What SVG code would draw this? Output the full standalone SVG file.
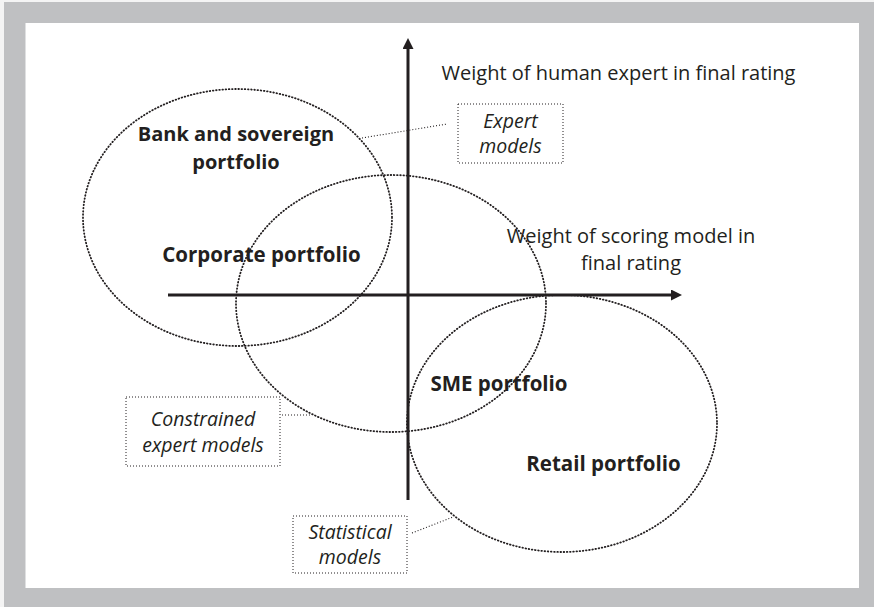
<svg xmlns="http://www.w3.org/2000/svg" width="874" height="607" viewBox="0 0 874 607">
<defs>
<style>
.ell{fill:none;stroke:#231f20;stroke-width:1.8;stroke-dasharray:0.6 2.6;stroke-linecap:round}
.box{fill:#fff;stroke:#231f20;stroke-width:1;stroke-dasharray:1 2}
.lead{fill:none;stroke:#231f20;stroke-width:1.1;stroke-dasharray:1 2}
.axis{stroke:#231f20;stroke-width:3;fill:none}
.lab{font-family:"Open Sans","Noto Sans",sans-serif;font-size:20px;fill:#231f20}
.it{font-family:"Open Sans","Noto Sans",sans-serif;font-size:19.5px;font-style:italic;fill:#231f20;text-anchor:middle}
.bold{font-family:"Open Sans","Noto Sans",sans-serif;font-size:20.5px;font-weight:bold;fill:#231f20;text-anchor:middle}
</style>
<marker id="ah" viewBox="0 0 10 10" refX="0" refY="5" markerWidth="11" markerHeight="11" markerUnits="userSpaceOnUse" orient="auto">
<path d="M0,0 L10,5 L0,10 Z" fill="#231f20"/>
</marker>
</defs>
<rect x="0" y="0" width="874" height="607" fill="#f4f4f4"/>
<rect x="4" y="2" width="870" height="605" fill="#bfc0c2"/>
<rect x="25.5" y="23" width="833.5" height="565" fill="#ffffff"/>

<g id="ellipses">
<ellipse id="bank-ellipse" class="ell" cx="237.5" cy="217.5" rx="154.5" ry="128.5"/>
<ellipse id="corporate-ellipse" class="ell" cx="391" cy="303.5" rx="155" ry="128.5"/>
<ellipse id="retail-ellipse" class="ell" cx="562" cy="423.5" rx="155" ry="128.5"/>
</g>

<g id="connectors">
<line class="axis" x1="408" y1="500" x2="408" y2="49" marker-end="url(#ah)"/>
<line class="axis" x1="168" y1="295" x2="671" y2="295" marker-end="url(#ah)"/>
<line class="lead" x1="362" y1="138" x2="447" y2="124"/>
<line class="lead" x1="282" y1="415" x2="310" y2="415"/>
<line class="lead" x1="412" y1="533" x2="453" y2="517"/>
</g>

<g id="axis-labels">
<text class="lab" x="618.5" y="80" text-anchor="middle">Weight of human expert in final rating</text>
<text class="lab" x="631" y="243" text-anchor="middle">Weight of scoring model in</text>
<text class="lab" x="631" y="270" text-anchor="middle">final rating</text>
</g>

<g id="bank">
<text class="bold" x="236" y="141" style="font-size:20px">Bank and sovereign</text>
<text class="bold" x="236" y="169" style="font-size:20px">portfolio</text>
</g>
<g id="corporate">
<text class="bold" x="261.5" y="262">Corporate portfolio</text>
</g>
<g id="sme">
<text class="bold" x="499" y="391">SME portfolio</text>
</g>
<g id="retail">
<text class="bold" x="603.5" y="471">Retail portfolio</text>
</g>

<g id="expert-models">
<rect class="box" x="458" y="104" width="105" height="59"/>
<text class="it" x="510.5" y="128">Expert</text>
<text class="it" x="510.5" y="153">models</text>
</g>
<g id="constrained-expert-models">
<rect class="box" x="126" y="397" width="154" height="69"/>
<text class="it" x="203" y="426">Constrained</text>
<text class="it" x="203" y="452">expert models</text>
</g>
<g id="statistical-models">
<rect class="box" x="293" y="516" width="114" height="57"/>
<text class="it" x="350" y="539">Statistical</text>
<text class="it" x="350" y="564">models</text>
</g>
</svg>
